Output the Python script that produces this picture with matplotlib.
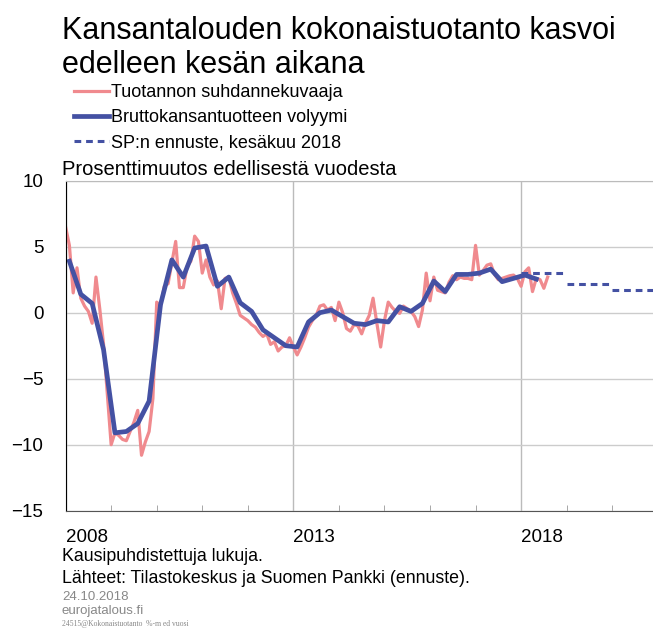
import numpy as np
import matplotlib
matplotlib.use("Agg")
import matplotlib.pyplot as plt

plt.rcParams['font.family'] = ['Liberation Sans', 'DejaVu Sans']

# monthly trend indicator of output, % change y/y, Jan 2008 - Aug 2018
tuotanto = [6.5, 5.1, 1.5, 3.4, 1.1, 0.5, 0.1, -0.8, 2.7, 0.3, -2.4, -6.2,
            -10.0, -9.1, -9.3, -9.6, -9.7, -9.0, -8.3, -7.4, -10.8, -9.8, -9.0, -6.5,
            0.8, 0.5, 2.0, 2.2, 3.8, 5.4, 1.9, 1.9, 3.5, 3.9, 5.8, 5.4,
            3.0, 4.0, 2.7, 2.1, 2.4, 0.3, 2.6, 2.7, 1.5, 0.7, -0.2, -0.4,
            -0.6, -0.9, -1.1, -1.5, -1.8, -1.6, -2.4, -2.2, -2.9, -2.6, -2.5, -1.9,
            -2.6, -3.2, -2.6, -1.9, -1.1, -0.6, -0.2, 0.5, 0.6, 0.2, 0.4, -0.6,
            0.8, 0.0, -1.2, -1.4, -0.9, -1.0, -1.6, -0.8, -0.2, 1.1, -0.8, -2.6,
            -0.6, 0.8, 0.4, 0.1, -0.05, 0.5, 0.3, 0.1, -0.3, -1.05, 0.2, 3.0,
            0.9, 2.7, 1.7, 1.6, 1.5, 2.3, 2.8, 2.5, 2.7, 2.6, 2.6, 2.5,
            5.1, 2.85, 3.2, 3.6, 3.7, 2.9, 2.5, 2.6, 2.7, 2.8, 2.85, 2.6,
            2.0, 3.1, 3.4, 1.6, 2.6, 2.5, 1.85, 2.7]

# quarterly GDP volume, % change y/y, 2008Q1 - 2018Q2
bkt = [3.9, 1.4, 0.7, -2.8,
       -9.1, -9.0, -8.4, -6.7,
       0.6, 4.0, 2.7, 4.9,
       5.05, 2.0, 2.7, 0.75,
       0.1, -1.3, -1.9, -2.5,
       -2.6, -0.7, 0.0, 0.2,
       -0.3, -0.8, -0.9, -0.6,
       -0.7, 0.45, 0.1, 0.7,
       2.4, 1.6, 2.9, 2.9,
       3.0, 3.3, 2.35, 2.6,
       2.85, 2.55]

# Bank of Finland forecast, June 2018
ennuste_vuodet = [2018, 2019, 2020]
ennuste = [3.0, 2.2, 1.7]

x_kk = 2008 + np.arange(len(tuotanto)) / 12
x_q = 2008 + (1 + 3 * np.arange(len(bkt))) / 12

pink = '#F08A8E'
blue = '#4451A3'

fig = plt.figure(figsize=(6.53, 6.28), dpi=100)
ax = fig.add_axes([65.6 / 653, 1 - 510.7 / 628, (653 - 65.6) / 653, 330 / 628])

ax.plot(x_kk, tuotanto, color=pink, lw=2.3, solid_joinstyle='round', label='Tuotannon suhdannekuvaaja')
ax.plot(x_q, bkt, color=blue, lw=3.4, solid_joinstyle='round', label='Bruttokansantuotteen volyymi')
for i, (v, e) in enumerate(zip(ennuste_vuodet, ennuste)):
    ax.plot([v, v + 1], [e, e], color=blue, lw=2.2, ls=(0, (2.2, 1.6)),
            label='SP:n ennuste, kesäkuu 2018' if i == 0 else None)

ax.set_xlim(2008, 2008 + 587.4 / 45.55)
ax.set_ylim(-15, 10)
ax.set_yticks([-15, -10, -5, 0, 5, 10])
ax.set_xticks([2008, 2013, 2018])
ax.set_xticks(np.arange(2008, 2021), minor=True)
ax.set_xticklabels(['2008', '2013', '2018'], ha='left')
ax.tick_params(axis='x', which='major', length=0, pad=13, labelsize=13.5)
ax.tick_params(axis='x', which='minor', length=4, direction='in', color='#999999')
ax.tick_params(axis='y', length=0, pad=16, labelsize=13.5)
ax.grid(axis='y', color='#cccccc', lw=1)
ax.grid(axis='x', which='major', color='#bbbbbb', lw=1)
ax.spines['right'].set_visible(False)
ax.spines['top'].set_color('#bbbbbb')
ax.spines['left'].set_color('black')
ax.spines['bottom'].set_color('#555555')
ax.set_axisbelow(True)

fig.text(62 / 653, 1 - 39 / 628, 'Kansantalouden kokonaistuotanto kasvoi', fontsize=22)
fig.text(62 / 653, 1 - 73 / 628, 'edelleen kesän aikana', fontsize=22)
leg = fig.legend(loc='upper left', bbox_to_anchor=(74 / 653, 1 - 84 / 628), frameon=False,
                 fontsize=13, handlelength=1.95, handletextpad=0.12, labelspacing=0.45,
                 borderpad=0, borderaxespad=0)
fig.text(62 / 653, 1 - 175 / 628, 'Prosenttimuutos edellisestä vuodesta', fontsize=14.5)

fig.text(62 / 653, 1 - 561 / 628, 'Kausipuhdistettuja lukuja.', fontsize=12.8)
fig.text(62 / 653, 1 - 583 / 628, 'Lähteet: Tilastokeskus ja Suomen Pankki (ennuste).', fontsize=12.8)
fig.text(62 / 653, 1 - 600 / 628, '24.10.2018', fontsize=9.5, color='#888888')
fig.text(62 / 653, 1 - 614 / 628, 'eurojatalous.fi', fontsize=9.5, color='#888888')
fig.text(62 / 653, 1 - 626 / 628, '24515@Kokonaistuotanto  %-m ed vuosi', fontsize=5.5,
         color='#888888', family='Liberation Serif')

fig.savefig('out.png', dpi=100)
